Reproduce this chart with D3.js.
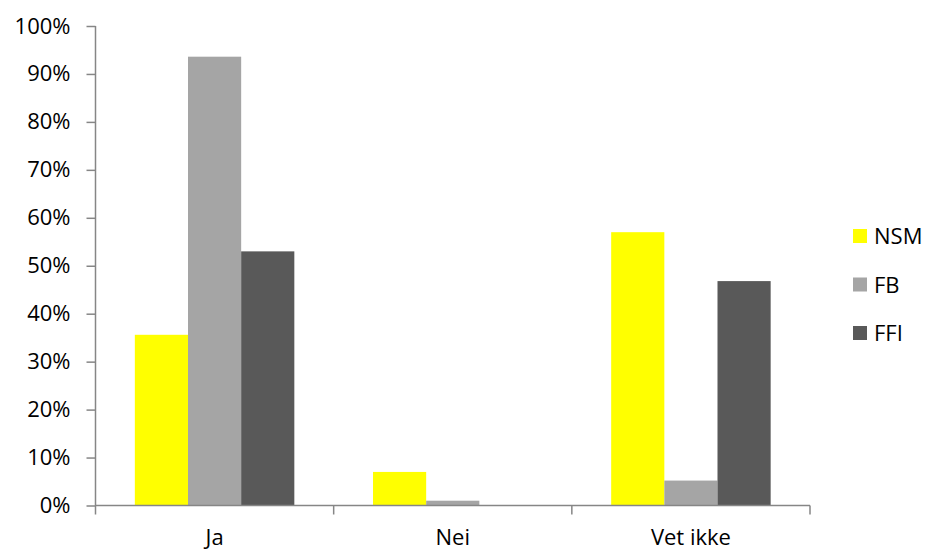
<!DOCTYPE html>
<html>
<head>
<meta charset="utf-8">
<script src="https://cdn.jsdelivr.net/npm/d3@7"></script>
<style>
  html, body { margin: 0; padding: 0; background: #fff; }
  svg { display: block; }
  text { font-family: "Open Sans", "Noto Sans", sans-serif; fill: #000; }
</style>
</head>
<body>
<svg id="chart" width="927" height="551"></svg>
<script>
// Survey answers per group (share of respondents)
const categories = ["Ja", "Nei", "Vet ikke"];
const seriesNames = ["NSM", "FB", "FFI"];
const nsmValues = [0.356, 0.070, 0.570];
const fbValues  = [0.936, 0.010, 0.052];
const ffiValues = [0.530, 0.000, 0.468];
const yTicks = [0, 0.1, 0.2, 0.3, 0.4, 0.5, 0.6, 0.7, 0.8, 0.9, 1.0];
const colors = ["#FFFF00", "#A5A5A5", "#595959"];

(function () {
  const seriesValues = [nsmValues, fbValues, ffiValues];
  const rows = categories.map((c, i) => ({
    category: c,
    values: seriesNames.map((s, j) => ({ series: s, value: seriesValues[j][i] }))
  }));

  const svg = d3.select("#chart");
  const plotLeft = 95.5, plotRight = 810, plotTop = 26, plotBottom = 505.5;
  const axisColor = "#868686";
  const fontSize = 22;

  const x0 = d3.scaleBand().domain(categories).range([plotLeft, plotRight]).paddingInner(0).paddingOuter(0);
  const x1 = d3.scaleBand().domain(seriesNames).range([0, x0.bandwidth()]).paddingInner(0).paddingOuter(0.74);
  const y = d3.scaleLinear().domain([0, 1]).range([plotBottom, plotTop]);
  const color = d3.scaleOrdinal().domain(seriesNames).range(colors);

  // Bars
  const groups = svg.append("g").selectAll("g")
    .data(rows).join("g")
    .attr("transform", d => `translate(${x0(d.category)},0)`);
  groups.selectAll("rect")
    .data(d => d.values).join("rect")
    .attr("x", d => x1(d.series))
    .attr("width", x1.bandwidth())
    .attr("y", d => y(d.value))
    .attr("height", d => y(0) - y(d.value))
    .attr("fill", d => color(d.series));

  // Y axis
  const yAxis = d3.axisLeft(y).tickValues(yTicks).tickSize(9).tickPadding(16)
    .tickFormat(d3.format(".0%"));
  const gy = svg.append("g").attr("transform", `translate(${plotLeft},0)`).call(yAxis);
  gy.select(".domain").remove();
  gy.selectAll(".tick line").attr("stroke", axisColor).attr("stroke-width", 1.5);
  gy.selectAll(".tick text").attr("font-size", fontSize).attr("font-family", null).attr("fill", "#000");
  svg.append("line")
    .attr("x1", plotLeft).attr("x2", plotLeft).attr("y1", plotTop).attr("y2", plotBottom + 9)
    .attr("stroke", axisColor).attr("stroke-width", 1.5);

  // X axis line and category boundary ticks
  svg.append("line")
    .attr("x1", plotLeft).attr("x2", plotRight).attr("y1", plotBottom).attr("y2", plotBottom)
    .attr("stroke", axisColor).attr("stroke-width", 1.5);
  const boundaries = categories.map(c => x0(c) + x0.bandwidth());
  svg.append("g").selectAll("line").data(boundaries).join("line")
    .attr("x1", d => d).attr("x2", d => d)
    .attr("y1", plotBottom).attr("y2", plotBottom + 9)
    .attr("stroke", axisColor).attr("stroke-width", 1.5);

  // Category labels
  svg.append("g").selectAll("text").data(categories).join("text")
    .attr("x", d => x0(d) + x0.bandwidth() / 2)
    .attr("y", 545)
    .attr("text-anchor", "middle")
    .attr("font-size", fontSize)
    .text(d => d);

  // Legend
  const legend = svg.append("g").selectAll("g").data(seriesNames).join("g")
    .attr("transform", (d, i) => `translate(853,${229 + i * 48.5})`);
  legend.append("rect").attr("width", 14).attr("height", 14).attr("fill", d => color(d));
  legend.append("text").attr("x", 21).attr("y", 15).attr("font-size", fontSize).text(d => d);
})();
</script>
</body>
</html>
